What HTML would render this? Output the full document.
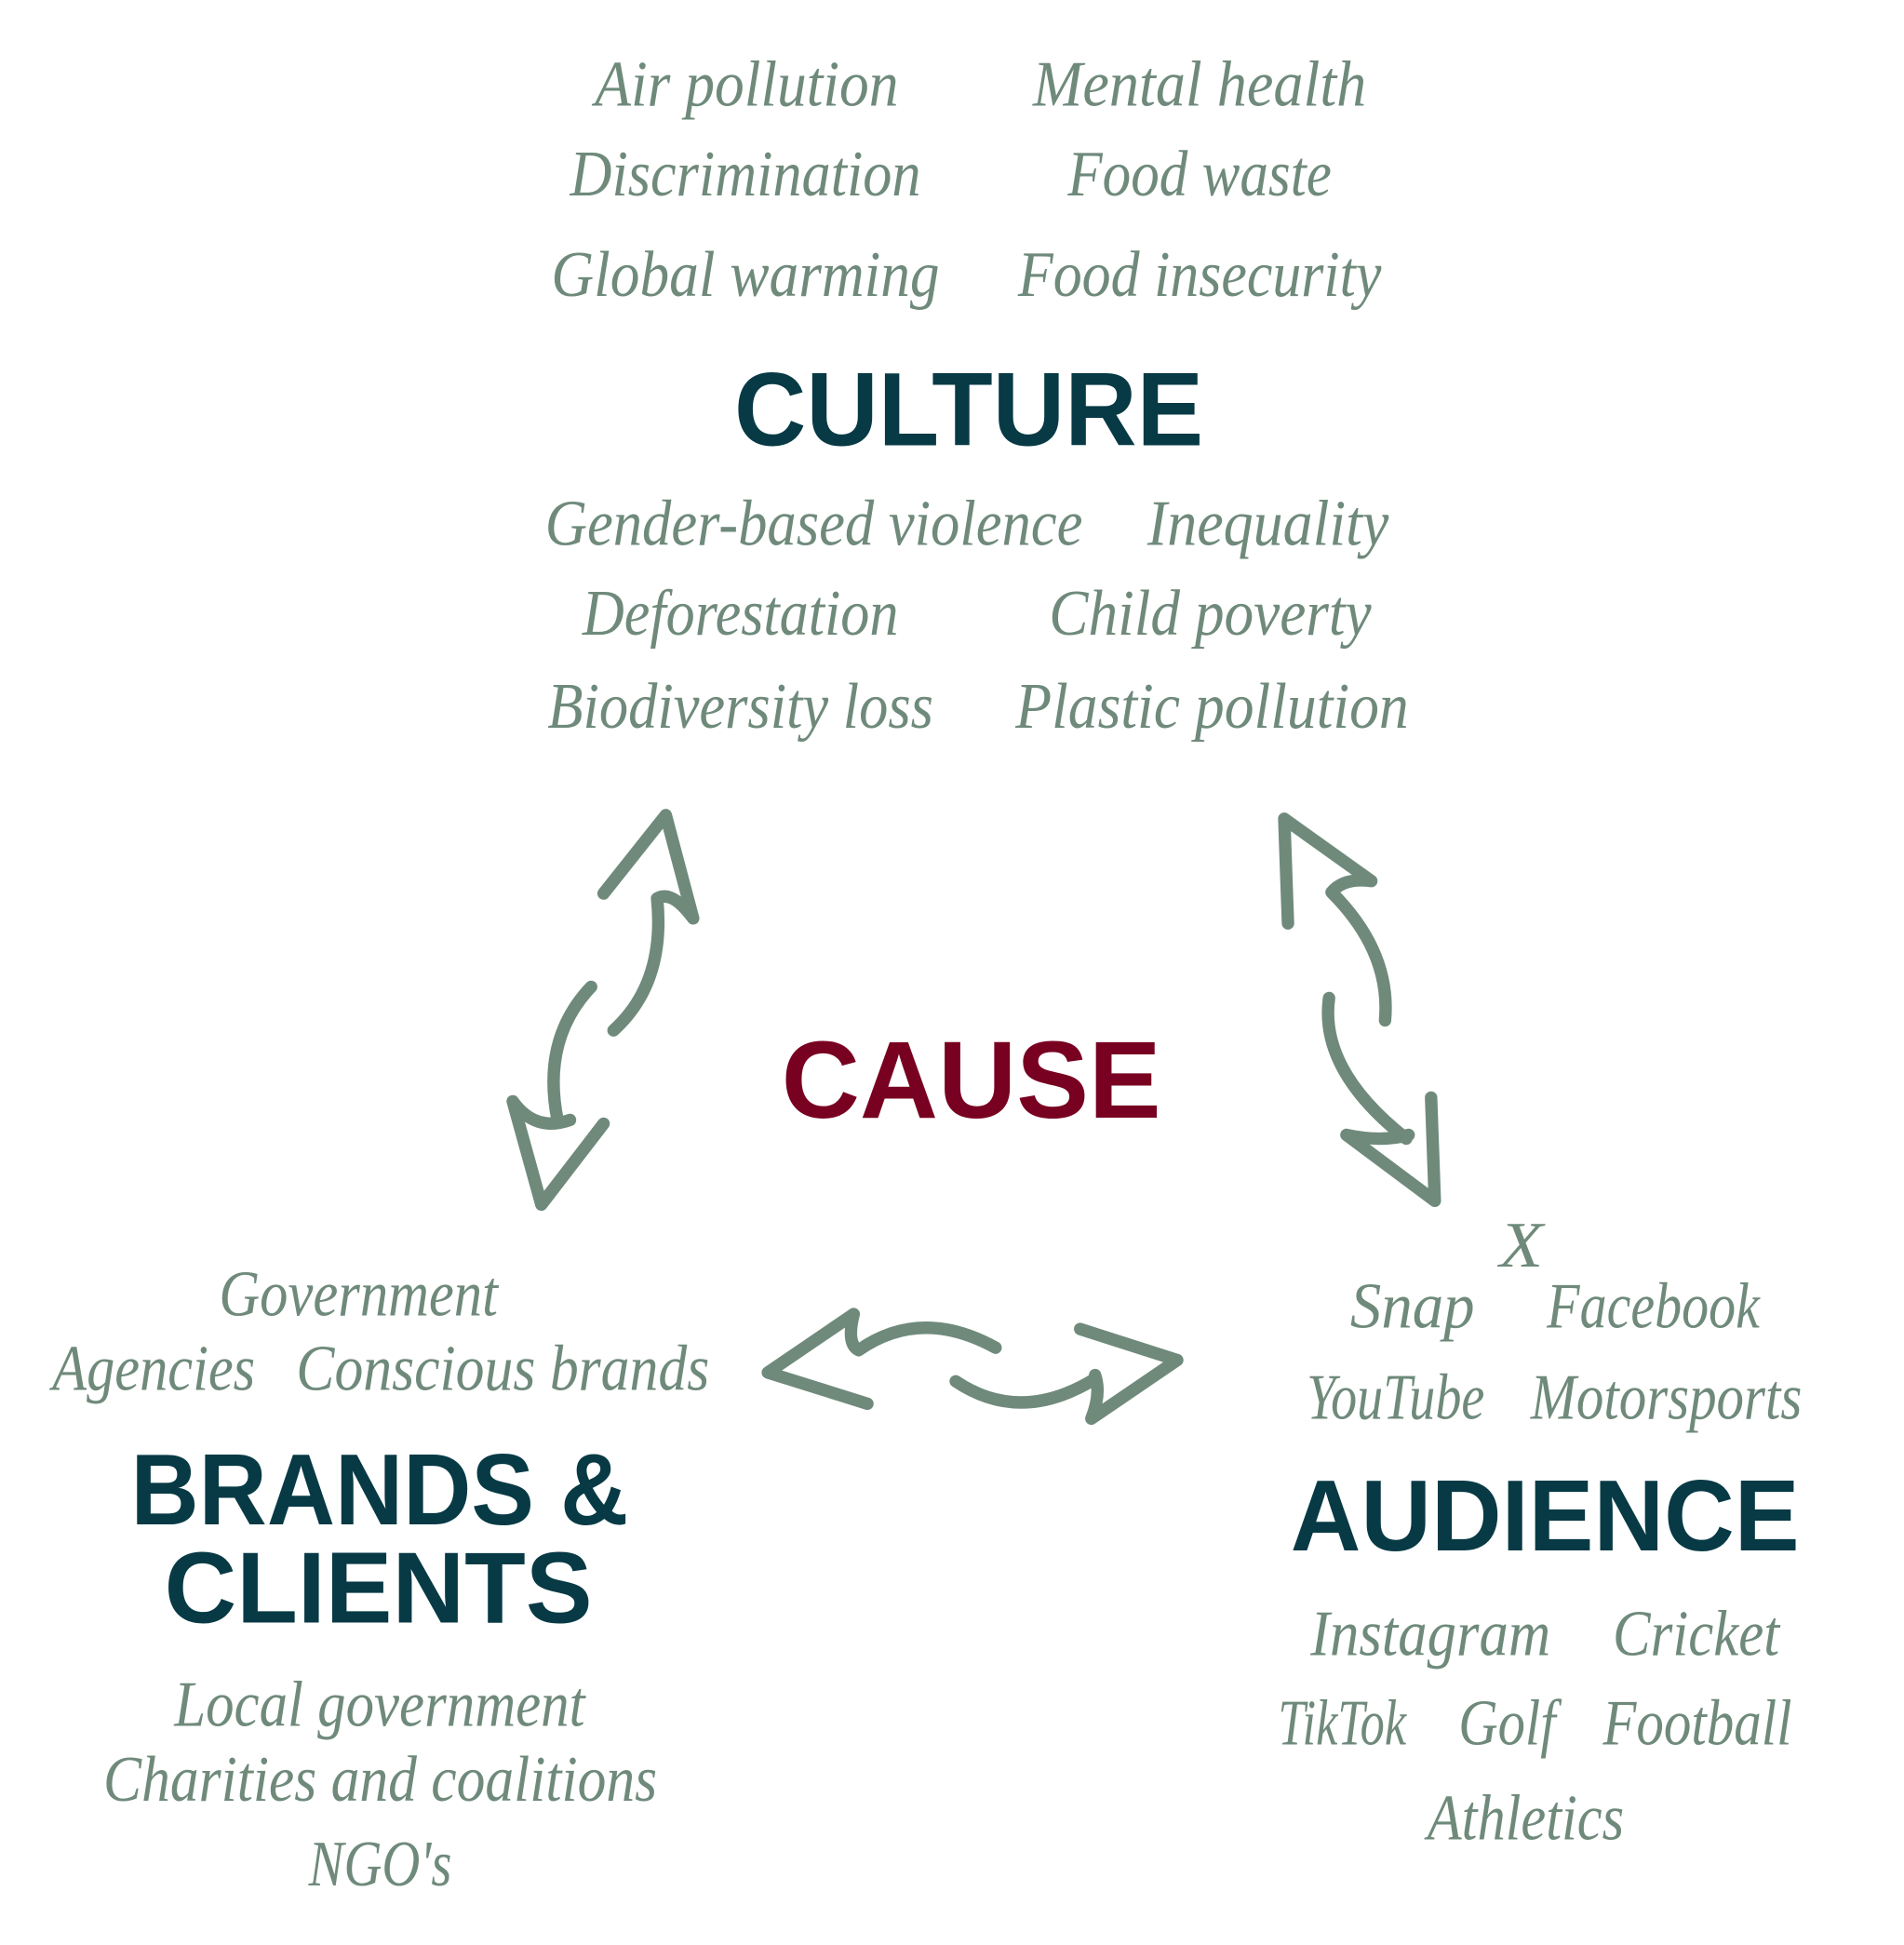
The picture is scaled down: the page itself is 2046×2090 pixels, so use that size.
<!DOCTYPE html>
<html><head><meta charset="utf-8"><style>
html,body{margin:0;padding:0;background:#fff;}
svg{display:block}
.s{font-family:"Liberation Serif",serif;font-style:italic;font-size:52px;fill:#6f8a7b;}
.h{font-family:"Liberation Sans",sans-serif;font-weight:bold;fill:#073a45;}
.a{fill:none;stroke:#6f8a7b;stroke-width:10;stroke-linecap:round;stroke-linejoin:round;}
</style></head><body>
<svg width="2046" height="2090" viewBox="0 0 1530 1563" xmlns="http://www.w3.org/2000/svg">
<g class="s" >
<text x="478" y="85" textLength="244" lengthAdjust="spacingAndGlyphs">Air pollution</text>
<text x="830" y="85" textLength="268" lengthAdjust="spacingAndGlyphs">Mental health</text>
<text x="458" y="157" textLength="282" lengthAdjust="spacingAndGlyphs">Discrimination</text>
<text x="858" y="157" textLength="212" lengthAdjust="spacingAndGlyphs">Food waste</text>
<text x="443" y="238" textLength="312" lengthAdjust="spacingAndGlyphs">Global warming</text>
<text x="818" y="238" textLength="292" lengthAdjust="spacingAndGlyphs">Food insecurity</text>
<text x="438" y="438" textLength="432" lengthAdjust="spacingAndGlyphs">Gender-based violence</text>
<text x="922" y="438" textLength="194" lengthAdjust="spacingAndGlyphs">Inequality</text>
<text x="468" y="510" textLength="254" lengthAdjust="spacingAndGlyphs">Deforestation</text>
<text x="843" y="510" textLength="259" lengthAdjust="spacingAndGlyphs">Child poverty</text>
<text x="440" y="585" textLength="310" lengthAdjust="spacingAndGlyphs">Biodiversity loss</text>
<text x="816" y="585" textLength="316" lengthAdjust="spacingAndGlyphs">Plastic pollution</text>
<text x="1205" y="1018" textLength="35" lengthAdjust="spacingAndGlyphs">X</text>
<text x="1085" y="1067" textLength="100" lengthAdjust="spacingAndGlyphs">Snap</text>
<text x="1243" y="1067" textLength="171" lengthAdjust="spacingAndGlyphs">Facebook</text>
<text x="1050" y="1140" textLength="143" lengthAdjust="spacingAndGlyphs">YouTube</text>
<text x="1230" y="1140" textLength="218" lengthAdjust="spacingAndGlyphs">Motorsports</text>
<text x="1053" y="1330" textLength="193" lengthAdjust="spacingAndGlyphs">Instagram</text>
<text x="1296" y="1330" textLength="134" lengthAdjust="spacingAndGlyphs">Cricket</text>
<text x="1027" y="1402" textLength="103" lengthAdjust="spacingAndGlyphs">TikTok</text>
<text x="1172" y="1402" textLength="78" lengthAdjust="spacingAndGlyphs">Golf</text>
<text x="1288" y="1402" textLength="152" lengthAdjust="spacingAndGlyphs">Football</text>
<text x="1147" y="1478" textLength="158" lengthAdjust="spacingAndGlyphs">Athletics</text>
<text x="176" y="1057" textLength="224" lengthAdjust="spacingAndGlyphs">Government</text>
<text x="42" y="1117" textLength="163" lengthAdjust="spacingAndGlyphs">Agencies</text>
<text x="238" y="1117" textLength="332" lengthAdjust="spacingAndGlyphs">Conscious brands</text>
<text x="140" y="1387" textLength="330" lengthAdjust="spacingAndGlyphs">Local government</text>
<text x="83" y="1447" textLength="445" lengthAdjust="spacingAndGlyphs">Charities and coalitions</text>
<text x="248" y="1515" textLength="115" lengthAdjust="spacingAndGlyphs">NGO's</text>
</g>
<text class="h" x="590" y="358" font-size="84" textLength="377" lengthAdjust="spacingAndGlyphs">CULTURE</text>
<text class="h" x="628" y="898" font-size="88" textLength="305" lengthAdjust="spacingAndGlyphs" style="fill:#780020">CAUSE</text>
<text class="h" x="1037" y="1246" font-size="81" textLength="409" lengthAdjust="spacingAndGlyphs">AUDIENCE</text>
<text class="h" x="105" y="1225" font-size="81" textLength="400" lengthAdjust="spacingAndGlyphs">BRANDS &amp;</text>
<text class="h" x="132" y="1304" font-size="81" textLength="344" lengthAdjust="spacingAndGlyphs">CLIENTS</text>
<g class="a">
<!-- left pair -->
<path d="M485,718 L535,655 L557,738 M557,738 Q540,715 528,722 Q535,790 493,828"/>
<path d="M475,793 Q435,835 448,900 M412,885 L435,968 L485,903 M412,885 Q430,910 458,900"/>
<!-- right pair -->
<path d="M1035,742 L1032,658 L1102,708 M1102,708 Q1080,705 1070,717 Q1118,765 1113,820"/>
<path d="M1068,802 Q1060,860 1130,915 M1150,882 L1153,965 L1082,912 M1082,912 Q1110,918 1132,912"/>
<!-- bottom pair -->
<path d="M686,1056 L617,1103 L697,1128 M686,1056 Q680,1080 690,1085 Q740,1050 800,1083"/>
<path d="M768,1110 Q820,1145 880,1108 M868,1068 L946,1093 L877,1140 M877,1140 Q885,1120 880,1105"/>
</g>
</svg>
</body></html>
